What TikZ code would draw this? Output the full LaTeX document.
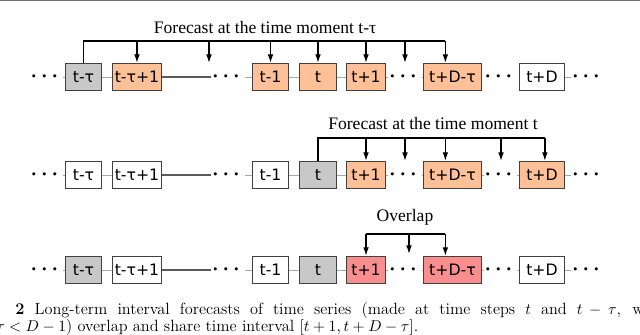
\documentclass[tikz,border=0pt]{standalone}
\usepackage{amsmath,amssymb}
\usepackage{fontspec}
\usepackage{tikz}
\usetikzlibrary{arrows.meta,positioning,calc}
\newfontfamily\boxfont{DejaVu Sans}
\newfontfamily\headfont{Liberation Serif}
\definecolor{boxline}{HTML}{404040}
\definecolor{pastorange}{HTML}{FDC097}
\definecolor{pastgray}{HTML}{C8C8C8}
\definecolor{pastred}{HTML}{F98E8E}
\definecolor{linkgray}{HTML}{A8A8A8}
\definecolor{longgray}{HTML}{5A5A5A}
\definecolor{framegray}{HTML}{707070}

\begin{document}
\begin{tikzpicture}[
    x=0.7pt, y=-0.7pt,
    box/.style={draw=boxline, line width=0.8pt, minimum height=19pt, inner sep=0pt, font=\boxfont\fontsize{11}{13}\selectfont},
    ellip/.style={inner xsep=0.5pt, inner ysep=2pt, font=\fontsize{15}{15}\selectfont\boldmath},
    link/.style={draw=linkgray, line width=0.6pt},
    longlink/.style={draw=longgray, line width=0.8pt},
    fbar/.style={line width=0.9pt, black},
    farrow/.style={-{Latex[length=6pt,width=4pt]}, line width=0.9pt, black},
    headline/.style={font=\headfont\fontsize{12.3}{14}\selectfont, inner sep=0pt},
    captext/.style={font=\fontsize{11.4}{13}\selectfont, inner sep=0pt, anchor=base west}
]
\useasboundingbox (0,0) rectangle (640,335);
\draw[framegray, line width=1.2pt] (0,0.5) -- (640,0.5);

% forecast at t-tau
\node[ellip] (ldotsA) at (46.5,77) {$\cdots$};
\node[box, fill=pastgray, minimum width=25.3pt] (tmtauA) at (83.5,77) {t-τ};
\node[box, fill=pastorange, minimum width=34.4pt] (tmtauoneA) at (137,77) {t-τ+1};
\node[ellip] (mdotsA) at (228,77) {$\cdots$};
\node[box, fill=pastorange, minimum width=25.3pt] (tmoneA) at (270.5,77) {t-1};
\node[box, fill=pastorange, minimum width=26pt] (tA) at (318,77) {t};
\node[box, fill=pastorange, minimum width=27.4pt] (tponeA) at (366,77) {t+1};
\node[ellip] (gdotsA) at (405,77) {$\cdots$};
\node[box, fill=pastorange, minimum width=40.7pt] (tpdtauA) at (452.5,77) {t+D-τ};
\node[ellip] (hdotsA) at (500.5,77) {$\cdots$};
\node[box, fill=white, minimum width=31.6pt] (tpdA) at (542,77) {t+D};
\node[ellip] (rdotsA) at (588,77) {$\cdots$};

\foreach \a/\b in {ldotsA/tmtauA, tmtauA/tmtauoneA, mdotsA/tmoneA, tmoneA/tA, tA/tponeA, tponeA/gdotsA, gdotsA/tpdtauA, tpdA/rdotsA}
    \draw[link] (\a) -- (\b);
\draw[longlink] (tmtauoneA) -- (mdotsA);

\node[headline] (headA) at (265,27) {Forecast at the time moment t-τ};
\coordinate (barA) at (0,41);
\coordinate (gapAone) at (209,63);
\coordinate (gapAtwo) at (405,63);
\draw[fbar] (tmtauA.north) |- ([xshift=-5pt]tpdtauA.north |- barA);
\draw[farrow] (tmtauoneA.north |- barA) -- (tmtauoneA.north);
\draw[farrow] (gapAone |- barA) -- (gapAone);
\draw[farrow] (tmoneA.north |- barA) -- (tmoneA.north);
\draw[farrow] (tA.north |- barA) -- (tA.north);
\draw[farrow] (tponeA.north |- barA) -- (tponeA.north);
\draw[farrow] (gapAtwo |- barA) -- (gapAtwo);
\draw[farrow] ([xshift=-5pt]tpdtauA.north |- barA) -- ([xshift=-5pt]tpdtauA.north);

% forecast at t
\node[ellip] (ldotsB) at (46.5,175) {$\cdots$};
\node[box, fill=white, minimum width=25.3pt] (tmtauB) at (83.5,175) {t-τ};
\node[box, fill=white, minimum width=34.4pt] (tmtauoneB) at (137,175) {t-τ+1};
\node[ellip] (mdotsB) at (228,175) {$\cdots$};
\node[box, fill=white, minimum width=25.3pt] (tmoneB) at (270.5,175) {t-1};
\node[box, fill=pastgray, minimum width=26pt] (tB) at (318,175) {t};
\node[box, fill=pastorange, minimum width=27.4pt] (tponeB) at (366,175) {t+1};
\node[ellip] (gdotsB) at (405,175) {$\cdots$};
\node[box, fill=pastorange, minimum width=40.7pt] (tpdtauB) at (452.5,175) {t+D-τ};
\node[ellip] (hdotsB) at (500.5,175) {$\cdots$};
\node[box, fill=pastorange, minimum width=31.6pt] (tpdB) at (542,175) {t+D};
\node[ellip] (rdotsB) at (588,175) {$\cdots$};

\foreach \a/\b in {ldotsB/tmtauB, tmtauB/tmtauoneB, mdotsB/tmoneB, tmoneB/tB, tB/tponeB, tponeB/gdotsB, gdotsB/tpdtauB, tpdtauB/hdotsB, hdotsB/tpdB, tpdB/rdotsB}
    \draw[link] (\a) -- (\b);
\draw[longlink] (tmtauoneB) -- (mdotsB);

\node[headline] (headB) at (433,123) {Forecast at the time moment t};
\coordinate (barB) at (0,138);
\coordinate (gapBone) at (405,161);
\coordinate (gapBtwo) at (501,161);
\draw[fbar] (tB.north) |- ([xshift=2pt]tpdB.north |- barB);
\draw[farrow] (tponeB.north |- barB) -- (tponeB.north);
\draw[farrow] (gapBone |- barB) -- (gapBone);
\draw[farrow] ([xshift=-5pt]tpdtauB.north |- barB) -- ([xshift=-5pt]tpdtauB.north);
\draw[farrow] (gapBtwo |- barB) -- (gapBtwo);
\draw[farrow] ([xshift=2pt]tpdB.north |- barB) -- ([xshift=2pt]tpdB.north);

% overlap
\node[ellip] (ldotsC) at (46.5,270) {$\cdots$};
\node[box, fill=pastgray, minimum width=25.3pt] (tmtauC) at (83.5,270) {t-τ};
\node[box, fill=white, minimum width=34.4pt] (tmtauoneC) at (137,270) {t-τ+1};
\node[ellip] (mdotsC) at (228,270) {$\cdots$};
\node[box, fill=white, minimum width=25.3pt] (tmoneC) at (270.5,270) {t-1};
\node[box, fill=pastgray, minimum width=26pt] (tC) at (318,270) {t};
\node[box, fill=pastred, minimum width=27.4pt] (tponeC) at (366,270) {t+1};
\node[ellip] (gdotsC) at (405,270) {$\cdots$};
\node[box, fill=pastred, minimum width=40.7pt] (tpdtauC) at (452.5,270) {t+D-τ};
\node[ellip] (hdotsC) at (500.5,270) {$\cdots$};
\node[box, fill=white, minimum width=31.6pt] (tpdC) at (542,270) {t+D};
\node[ellip] (rdotsC) at (588,270) {$\cdots$};

\foreach \a/\b in {ldotsC/tmtauC, tmtauC/tmtauoneC, mdotsC/tmoneC, tmoneC/tC, tC/tponeC, tponeC/gdotsC, gdotsC/tpdtauC, tpdtauC/hdotsC, hdotsC/tpdC, tpdC/rdotsC}
    \draw[link] (\a) -- (\b);
\draw[longlink] (tmtauoneC) -- (mdotsC);

\node[headline] (headC) at (405,217) {Overlap};
\coordinate (barC) at (0,234);
\coordinate (gapCone) at (409,254);
\draw[fbar] (tponeC.north |- barC) -- ([xshift=-5pt]tpdtauC.north |- barC);
\draw[farrow] (tponeC.north |- barC) -- (tponeC.north);
\draw[farrow] (gapCone |- barC) -- (gapCone);
\draw[farrow] ([xshift=-5pt]tpdtauC.north |- barC) -- ([xshift=-5pt]tpdtauC.north);

% caption
\node[captext] (capone) at (15,314) {\makebox[440pt][s]{\textbf{2} Long-term interval forecasts of time series (made at time steps $t$ and $t-\tau$, w}};
\node[captext] (captwo) at (-4,331) {$\tau<D-1$) overlap and share time interval $[t+1,t+D-\tau]$.};
\end{tikzpicture}
\end{document}
